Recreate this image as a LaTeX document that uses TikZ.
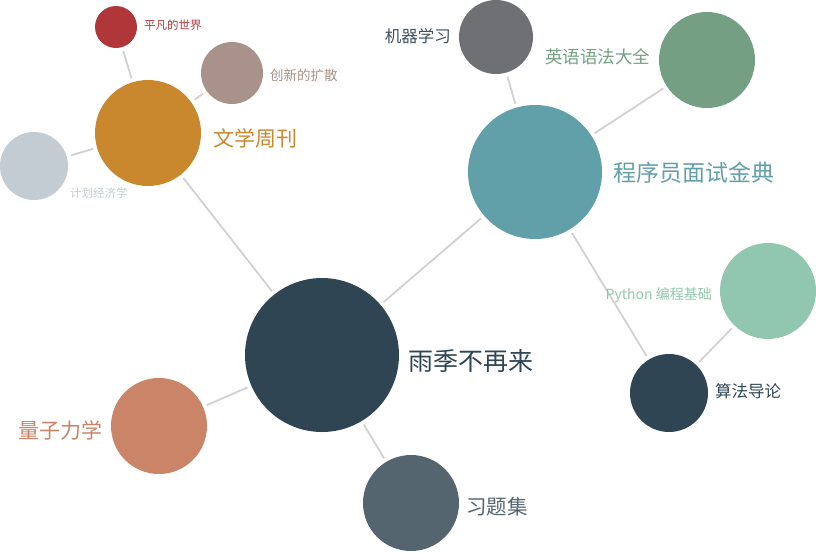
\documentclass[tikz,border=0pt]{standalone}
\usepackage{fontspec}
\setmainfont{Noto Sans CJK SC}
\begin{document}
\begin{tikzpicture}[x=1pt,y=-1pt,
  ball/.style={circle,inner sep=0pt,minimum size=#1},
  lnk/.style={draw=black!18,line width=1.8pt,shorten >=4pt,shorten <=4pt},
  lab/.style={inner sep=0pt,font=\fontsize{#1}{#1}\selectfont}]
\useasboundingbox (0,0) rectangle (816,552);
\definecolor{cA}{HTML}{2F4554}\definecolor{cB}{HTML}{C9882E}\definecolor{cC}{HTML}{B0363A}
\definecolor{cD}{HTML}{A8928A}\definecolor{cE}{HTML}{C4CCD3}\definecolor{cF}{HTML}{61A0A8}
\definecolor{cG}{HTML}{6E7074}\definecolor{cH}{HTML}{749F83}\definecolor{cI}{HTML}{91C7AE}
\definecolor{cJ}{HTML}{CA8468}\definecolor{cK}{HTML}{546570}
\node[ball=154pt,fill=cA] (yj) at (322,355) {};
\node[ball=106pt,fill=cB] (wx) at (148,133) {};
\node[ball=42pt,fill=cC] (pf) at (116,27) {};
\node[ball=62pt,fill=cD] (cx) at (232,73) {};
\node[ball=68pt,fill=cE] (jh) at (34,166) {};
\node[ball=134pt,fill=cF] (cs) at (535,172) {};
\node[ball=74pt,fill=cG] (jq) at (496,37) {};
\node[ball=96pt,fill=cH] (yy) at (707,60) {};
\node[ball=78pt,fill=cA] (sf) at (669,393) {};
\node[ball=96pt,fill=cI] (py) at (768,291) {};
\node[ball=96pt,fill=cJ] (lz) at (159,426) {};
\node[ball=96pt,fill=cK] (xt) at (411,503) {};
\draw[lnk] (yj)--(wx); \draw[lnk] (wx)--(pf); \draw[lnk] (wx)--(cx); \draw[lnk] (wx)--(jh);
\draw[lnk] (yj)--(cs); \draw[lnk] (cs)--(jq); \draw[lnk] (cs)--(yy); \draw[lnk] (cs)--(sf);
\draw[lnk] (sf)--(py); \draw[lnk] (yj)--(lz); \draw[lnk] (yj)--(xt);
\node[lab=25,anchor=west,text=cA] (t1) at (408,361) {雨季不再来};
\node[lab=21,anchor=west,text=cB] (t2) at (213,138) {文学周刊};
\node[lab=11.5,anchor=west,text=cC] (t3) at (144,25) {平凡的世界};
\node[lab=13.5,anchor=west,text=cD] (t4) at (270,75) {创新的扩散};
\node[lab=11.5,anchor=west,text=cE] (t5) at (70,193) {计划经济学};
\node[lab=23,anchor=west,text=cF] (t6) at (613,173) {程序员面试金典};
\node[lab=16.5,anchor=east,text=cA!80!gray] (t7) at (451,36) {机器学习};
\node[lab=17.5,anchor=west,text=cH] (t8) at (545,57) {英语语法大全};
\node[lab=16.5,anchor=west,text=cA] (t9) at (715,391) {算法导论};
\node[lab=14,anchor=east,text=cI] (t10) at (712,295) {Python 编程基础};
\node[lab=21,anchor=east,text=cJ] (t11) at (103,430) {量子力学};
\node[lab=20.5,anchor=west,text=cK] (t12) at (466,507) {习题集};
\end{tikzpicture}
\end{document}
